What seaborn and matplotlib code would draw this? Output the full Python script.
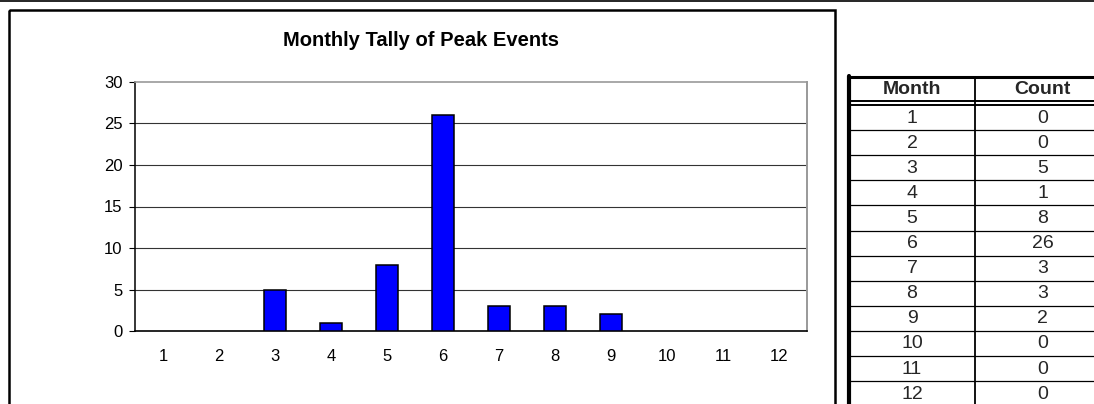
import numpy as np
import pandas as pd
import seaborn as sns
import matplotlib.pyplot as plt
from matplotlib.patches import Rectangle

# chart data
months = [1, 2, 3, 4, 5, 6, 7, 8, 9, 10, 11, 12]
counts = [0, 0, 5, 1, 8, 26, 3, 3, 2, 0, 0, 0]
y_ticks = [0, 5, 10, 15, 20, 25, 30]
title = "Monthly Tally of Peak Events"
col_headers = ["Month", "Count"]

W, H = 1094, 404

sns.set_theme(style="white")
plt.rcParams['font.family'] = ['Liberation Sans', 'DejaVu Sans']

fig = plt.figure(figsize=(W / 100, H / 100), dpi=100)

# plot area (pixel box 135..807 x 82..331)
ax = fig.add_axes([135 / W, 1 - 331 / H, (807 - 135) / W, (331 - 82) / H])
df = pd.DataFrame({"month": months, "count": counts})
sns.barplot(data=df, x="month", y="count", color="#0000FF", saturation=1,
            edgecolor="black", linewidth=1.1, width=0.41, ax=ax, zorder=3)
# empty months show no bar at all
for p in ax.patches:
    if p.get_height() == 0:
        p.set_visible(False)

ax.set_ylim(0, 30)
ax.set_yticks(y_ticks)
ax.set_xlabel("")
ax.set_ylabel("")
for v in y_ticks[1:-1]:
    ax.axhline(v, color="#333333", lw=0.8, zorder=1)
ax.tick_params(axis="y", which="both", left=True, length=4, width=0.8,
               color="black", pad=5, labelsize=12, labelcolor="black")
ax.tick_params(axis="x", length=0, pad=13, labelsize=12, labelcolor="black")
ax.spines["left"].set_color("black")
ax.spines["left"].set_linewidth(1.1)
ax.spines["bottom"].set_color("black")
ax.spines["bottom"].set_linewidth(1.2)
ax.spines["top"].set_color("#999999")
ax.spines["top"].set_linewidth(1.2)
ax.spines["right"].set_color("#999999")
ax.spines["right"].set_linewidth(1.4)
ax.set_facecolor("white")

# overlay in pixel coordinates for frame, title and table
ov = fig.add_axes([0, 0, 1, 1], zorder=5)
ov.set_xlim(0, W)
ov.set_ylim(H, 0)
ov.axis("off")
ov.patch.set_alpha(0)

# top rule and chart frame
ov.plot([0, W], [0.8, 0.8], color="black", lw=1.2)
ov.add_patch(Rectangle((8.7, 10), 834.5 - 8.7, 420, fill=False,
                       edgecolor="black", lw=1.8, clip_on=True))
ov.text(421, 41, title, ha="center", va="center", fontsize=14.5,
        fontweight="bold", color="black")

# table
t_left, t_div, t_right = 849, 975, 1120
t_top, head_bot, row0, row_h = 77, 101, 105, 25.1
ov.plot([t_left, t_right], [t_top, t_top], color="black", lw=2.2)
ov.plot([t_left, t_left], [t_top - 1, H + 5], color="black", lw=3.0)
ov.plot([t_div, t_div], [t_top, H + 5], color="black", lw=1.3)
ov.plot([t_left, t_right], [head_bot, head_bot], color="black", lw=1.4)
ov.plot([t_left, t_right], [row0, row0], color="black", lw=1.4)
ov.text((t_left + t_div) / 2, 89, col_headers[0], ha="center", va="center",
        fontsize=14, fontweight="bold")
ov.text((t_div + t_right) / 2 - 5, 89, col_headers[1], ha="center", va="center",
        fontsize=14, fontweight="bold")
for i, (m, c) in enumerate(zip(months, counts)):
    y0 = row0 + i * row_h
    ov.plot([t_left, t_right], [y0 + row_h, y0 + row_h], color="black", lw=0.9)
    ov.text((t_left + t_div) / 2, y0 + row_h / 2 + 0.5, str(m), ha="center",
            va="center", fontsize=14)
    ov.text((t_div + t_right) / 2 - 5, y0 + row_h / 2 + 0.5, str(c), ha="center",
            va="center", fontsize=14)

fig.savefig("out.png", dpi=100, facecolor="white")
